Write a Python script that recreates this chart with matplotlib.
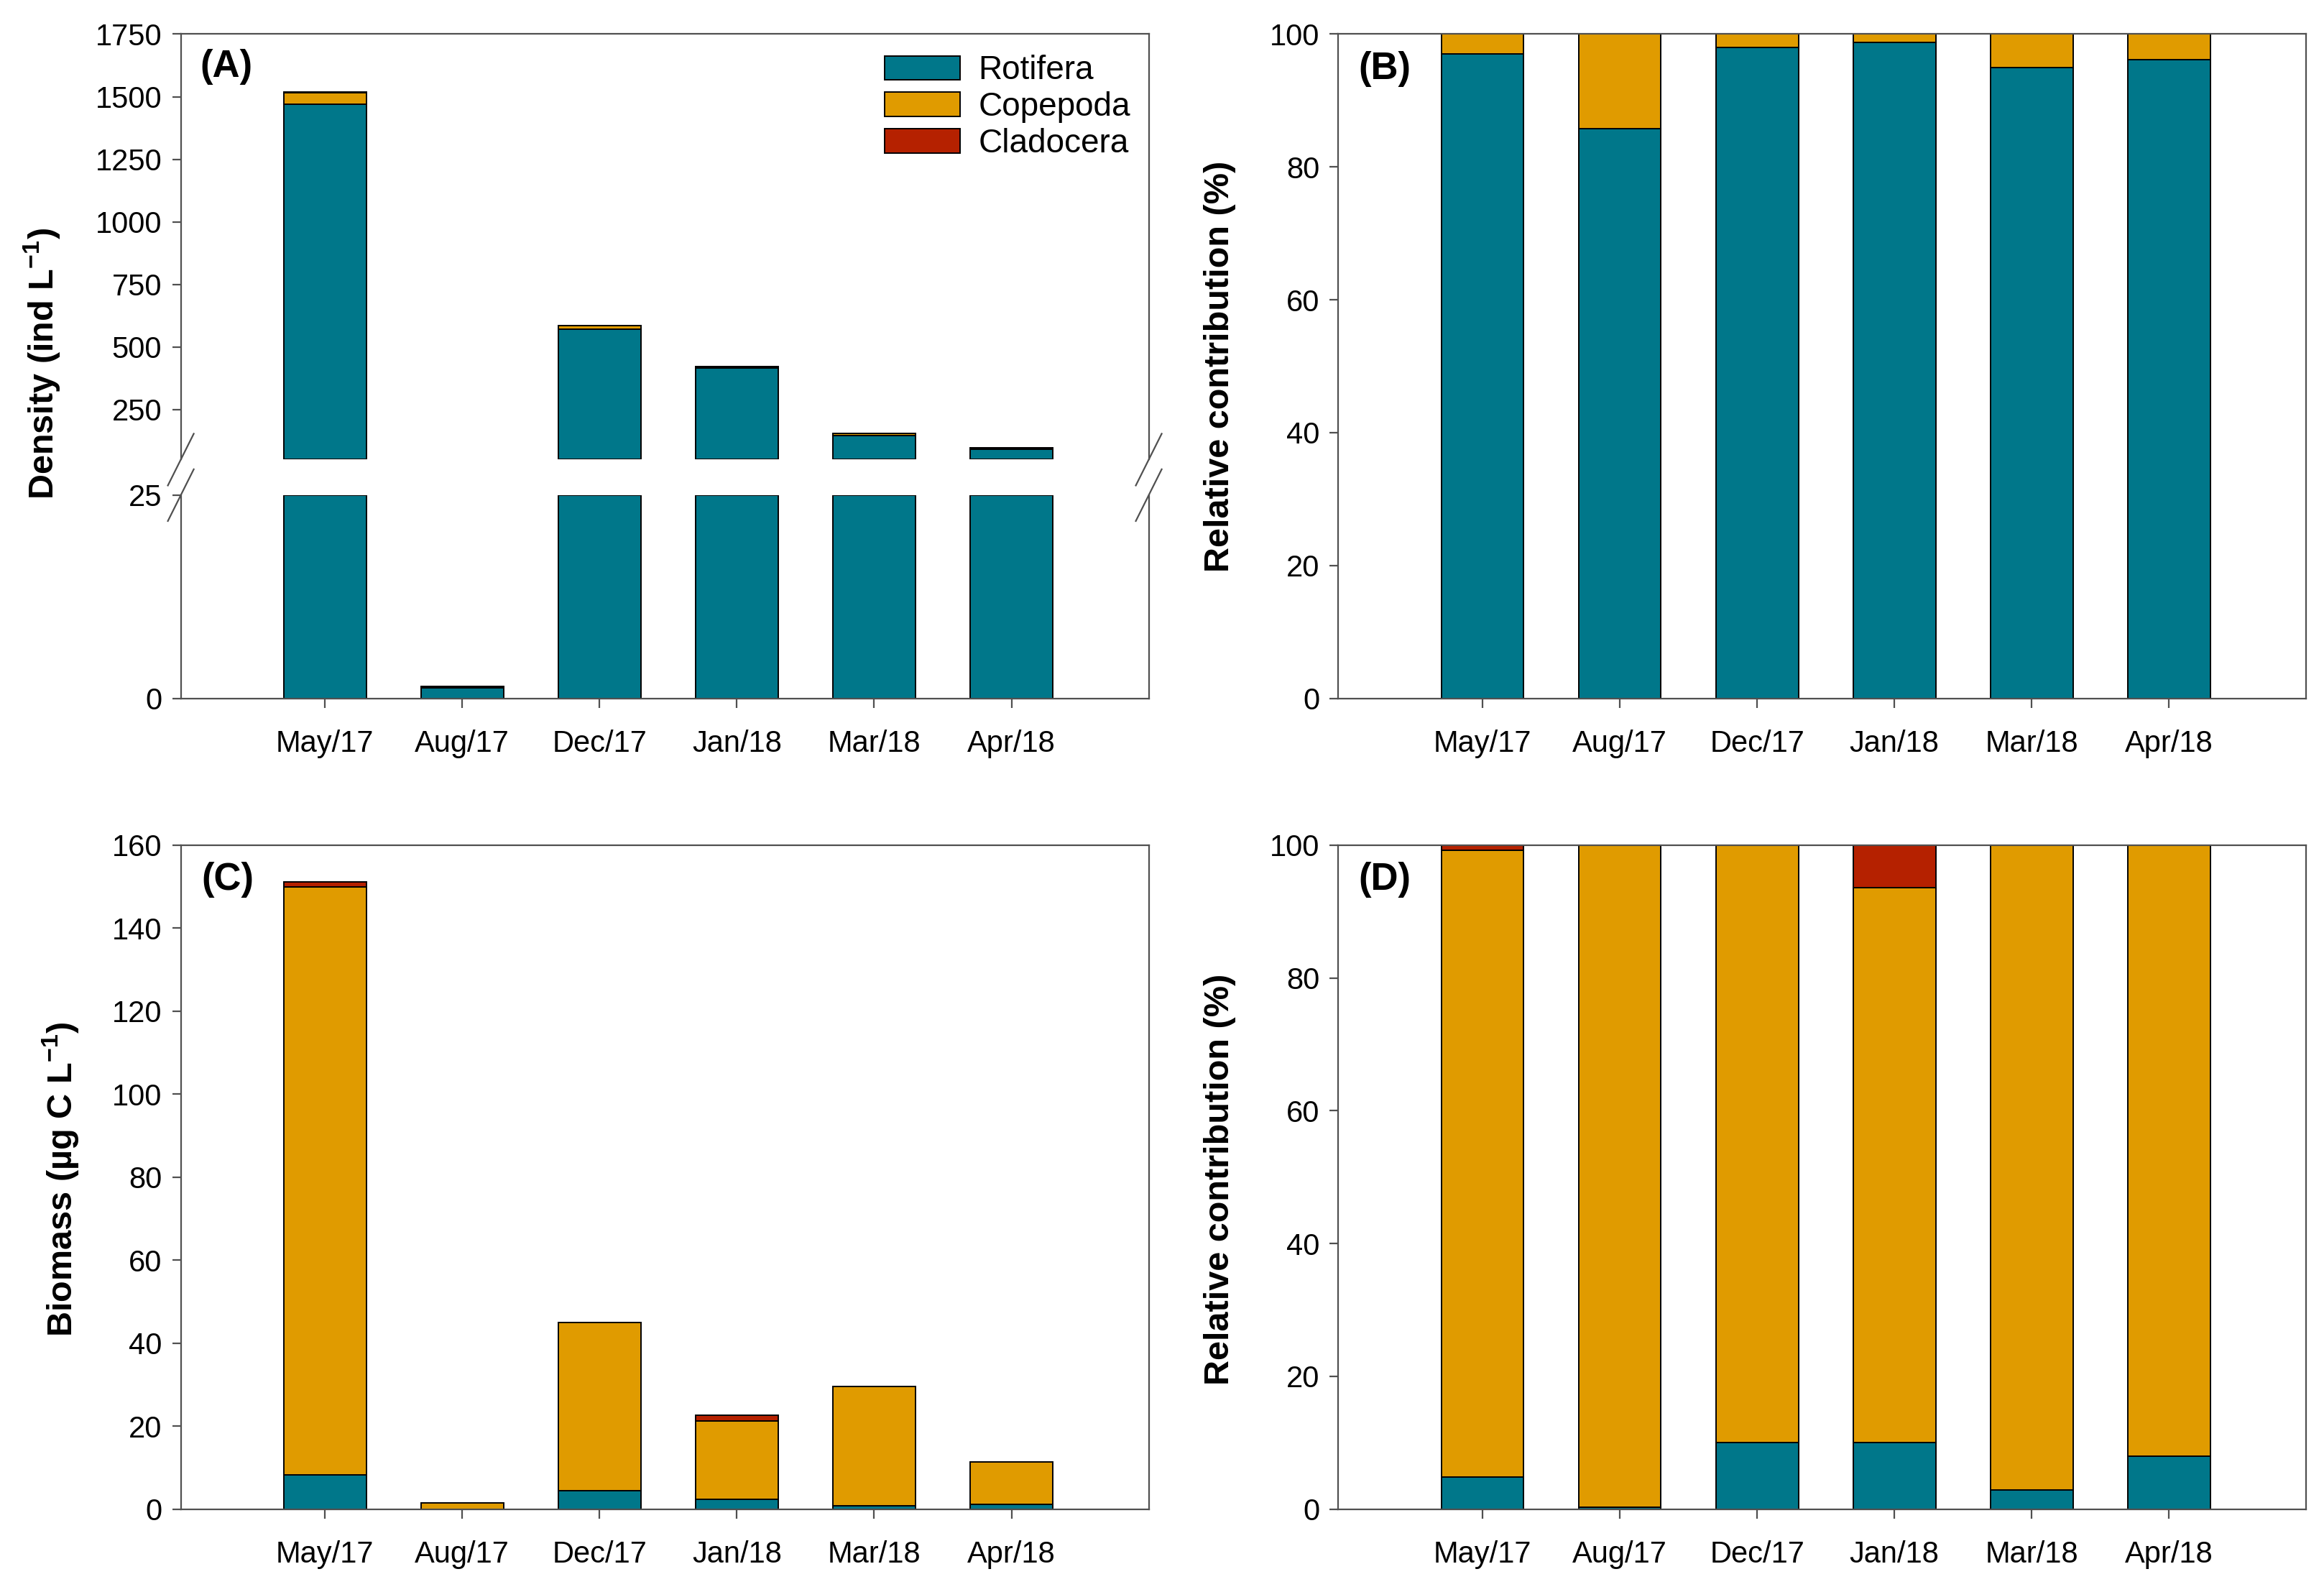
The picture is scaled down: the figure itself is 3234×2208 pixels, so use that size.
import matplotlib.pyplot as plt
import numpy as np

plt.rcParams['font.family'] = ['Liberation Sans', 'DejaVu Sans']
plt.rcParams['mathtext.fontset'] = 'custom'
plt.rcParams['mathtext.rm'] = 'Liberation Sans'
plt.rcParams['mathtext.bf'] = 'Liberation Sans:bold'

months = ['May/17', 'Aug/17', 'Dec/17', 'Jan/18', 'Mar/18', 'Apr/18']
groups = ['Rotifera', 'Copepoda', 'Cladocera']

# density (ind L-1)
dens_rot = [1470, 1.3, 572, 417, 146, 92]
dens_cop = [47, 0.2, 12, 5, 8, 4]
dens_cla = [0.4, 0, 0.3, 0.4, 0.1, 0]

# relative contribution of density (%)
pdens_rot = [97.0, 85.8, 98.0, 98.8, 95.0, 96.2]
pdens_cop = [3.0, 14.2, 2.0, 1.2, 5.0, 3.8]
pdens_cla = [0, 0, 0, 0, 0, 0]

# biomass (ug C L-1)
bio_rot = [8.2, 0.05, 4.4, 2.4, 0.9, 1.2]
bio_cop = [141.7, 1.4, 40.6, 18.8, 28.7, 10.2]
bio_cla = [1.3, 0, 0, 1.5, 0, 0]

# relative contribution of biomass (%)
pbio_rot = [4.9, 0.35, 10.0, 10.0, 2.9, 8.0]
pbio_cop = [94.3, 99.65, 90.0, 83.6, 97.1, 92.0]
pbio_cla = [0.8, 0, 0, 6.4, 0, 0]

colors = ['#00778A', '#E09B00', '#B52100']
x = np.arange(len(months))
width = 0.6
spine_col = '#505050'


def style(ax, bottom=True, top=True):
    for s in ax.spines.values():
        s.set_color(spine_col)
        s.set_linewidth(0.8)
    ax.spines['bottom'].set_visible(bottom)
    ax.spines['top'].set_visible(top)
    ax.tick_params(direction='out', length=4.5, width=0.8, color=spine_col,
                   labelsize=15, top=False, right=False, pad=5)
    ax.tick_params(axis='x', pad=11)
    ax.set_xlim(-1.05, 6.0)


def stack(ax, series, base=0.0):
    # stacked bars; bars are started at "base" so the cut edge shows
    bottom = np.zeros(len(months))
    for vals, c, name in zip(series, colors, groups):
        vals = np.asarray(vals, dtype=float)
        lo = np.maximum(bottom, base)
        hi = np.maximum(bottom + vals, base)
        keep = hi > lo
        ax.bar(x[keep], (hi - lo)[keep], width, bottom=lo[keep], color=c,
               edgecolor='black', linewidth=0.7, label=name)
        bottom = bottom + vals


fig = plt.figure(figsize=(16.17, 11.04), dpi=200)

L1, L2, W, H = 0.0778, 0.5759, 0.4165, 0.4185

# (A) broken axis
axA_hi = fig.add_axes([L1, 0.7104, W, 0.9785 - 0.7104])
axA_lo = fig.add_axes([L1, 0.560, W, 0.688 - 0.560])
upper_lim = (50, 1750)
stack(axA_hi, [dens_rot, dens_cop, dens_cla], base=upper_lim[0])
axA_hi.set_ylim(*upper_lim)
axA_hi.set_yticks(np.arange(250, 1751, 250))
style(axA_hi, bottom=False)
axA_hi.tick_params(axis='x', bottom=False, labelbottom=False)

low_cap = 25
low = np.minimum(np.cumsum([dens_rot, dens_cop, dens_cla], axis=0), low_cap)
low = np.diff(np.vstack([np.zeros(len(months)), low]), axis=0)
stack(axA_lo, list(low))
axA_lo.set_ylim(0, low_cap)
axA_lo.set_yticks([0, 25])
style(axA_lo, top=False)
axA_lo.set_xticks(x, months)

leg = axA_hi.legend(loc='upper right', bbox_to_anchor=(0.998, 0.99), frameon=False,
                    fontsize=16.5, handlelength=2.3, handleheight=0.75,
                    labelspacing=0.15, handletextpad=0.55, borderaxespad=0.1)

# break marks
fig_w, fig_h = fig.get_size_inches() * fig.dpi
dx, dy = 18 / fig_w, 36 / fig_h
for xs in (L1, L1 + W):
    for yb in (0.7104, 0.688):
        fig.add_artist(plt.Line2D([xs - dx, xs + dx], [yb - dy, yb + dy],
                                  color=spine_col, lw=0.8))

# (B)
axB = fig.add_axes([L2, 0.560, W, H])
stack(axB, [pdens_rot, pdens_cop, pdens_cla])
axB.set_ylim(0, 100)
axB.set_yticks(np.arange(0, 101, 20))
style(axB)
axB.set_xticks(x, months)

# (C)
axC = fig.add_axes([L1, 0.049, W, H])
stack(axC, [bio_rot, bio_cop, bio_cla])
axC.set_ylim(0, 160)
axC.set_yticks(np.arange(0, 161, 20))
style(axC)
axC.set_xticks(x, months)

# (D)
axD = fig.add_axes([L2, 0.049, W, H])
stack(axD, [pbio_rot, pbio_cop, pbio_cla])
axD.set_ylim(0, 100)
axD.set_yticks(np.arange(0, 101, 20))
style(axD)
axD.set_xticks(x, months)

# panel letters
axA_hi.text(0.02, 0.923, '(A)', transform=axA_hi.transAxes, fontsize=19,
            fontweight='bold', va='center')
for ax, lab in ((axB, '(B)'), (axC, '(C)'), (axD, '(D)')):
    ax.text(0.021, 0.948, lab, transform=ax.transAxes, fontsize=19,
            fontweight='bold', va='center')

# y labels
lab_kw = dict(rotation=90, ha='center', va='center', fontsize=17.5, fontweight='bold')
fig.text(0.018, 0.771, r'Density (ind L$^{\mathbf{-1}}$)', **lab_kw)
fig.text(0.525, 0.769, 'Relative contribution (%)', **lab_kw)
fig.text(0.026, 0.257, r'Biomass (µg C L$^{\mathbf{-1}}$)', **lab_kw)
fig.text(0.525, 0.257, 'Relative contribution (%)', **lab_kw)

fig.savefig('out.png', dpi=200)
